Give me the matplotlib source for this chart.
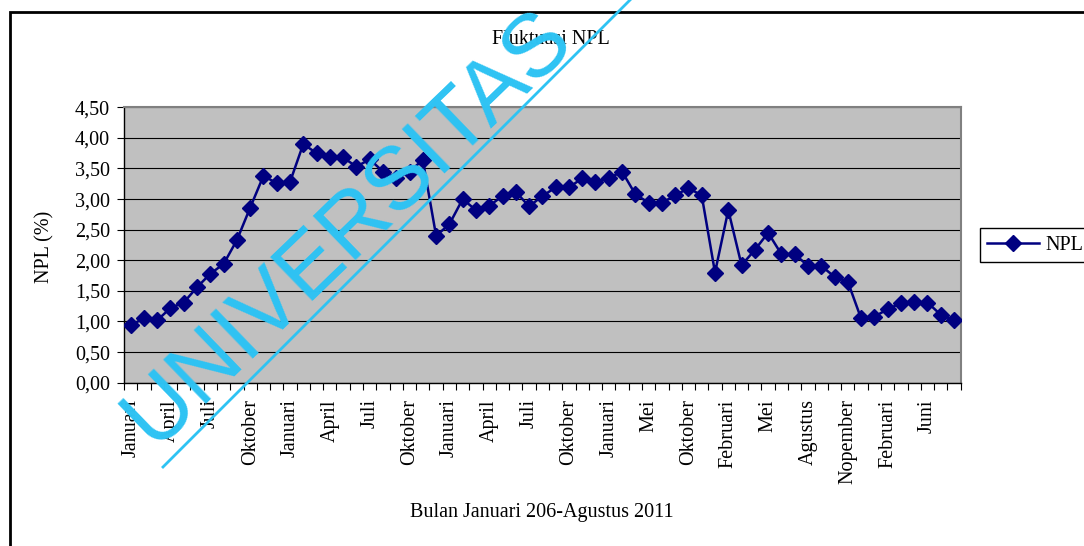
import matplotlib
matplotlib.use("Agg")
import matplotlib.pyplot as plt
from matplotlib.ticker import FixedLocator, FuncFormatter, MultipleLocator, NullFormatter
from matplotlib.lines import Line2D
from matplotlib.patches import Rectangle

# NPL bulanan (%) Januari 2006 - Agustus 2011
npl = [0.94, 1.05, 1.02, 1.22, 1.31, 1.56, 1.78, 1.94, 2.33, 2.86,
       3.38, 3.26, 3.28, 3.90, 3.75, 3.68, 3.68, 3.53, 3.65, 3.45,
       3.34, 3.45, 3.64, 2.40, 2.59, 3.00, 2.82, 2.89, 3.05, 3.12,
       2.88, 3.05, 3.19, 3.19, 3.34, 3.28, 3.34, 3.45, 3.08, 2.94,
       2.94, 3.06, 3.18, 3.06, 1.80, 2.82, 1.92, 2.17, 2.45, 2.10,
       2.10, 1.91, 1.91, 1.73, 1.65, 1.05, 1.08, 1.20, 1.30, 1.32,
       1.31, 1.11, 1.02]

# label bulan yang tampil (tiap 3 titik)
label_bulan = ["Januari", "April", "Juli", "Oktober", "Januari", "April", "Juli",
               "Oktober", "Januari", "April", "Juli", "Oktober", "Januari", "Mei",
               "Oktober", "Februari", "Mei", "Agustus", "Nopember", "Februari", "Juni"]

judul = "Fluktuasi NPL"
label_x = "Bulan Januari 206-Agustus 2011"
label_y = "NPL (%)"
watermark = "UNIVERSITAS"

W, H = 1084, 546
BIRU_TUA = "#000080"
CYAN = "#2ec3f3"
FS = 14.5


def px(x, y):
    # koordinat piksel (dari kiri atas) -> koordinat figure
    return x / W, 1 - y / H


def koma(v, pos):
    return f"{v:.2f}".replace(".", ",")


plt.rcParams['font.family'] = ['Liberation Serif', 'DejaVu Serif']

fig = plt.figure(figsize=(W / 100, H / 100), dpi=100)
ax = fig.add_axes([124 / W, 1 - 382.7 / H, 836.7 / W, 275.4 / H])
ax.set_facecolor("#c0c0c0")

n = len(npl)
x = list(range(n))
ax.plot(x, npl, color=BIRU_TUA, lw=1.8, marker="D", ms=8,
        mfc=BIRU_TUA, mec=BIRU_TUA, label="NPL", zorder=3)

ax.set_xlim(-0.5, n - 0.5)
ax.set_ylim(0, 4.5)
ax.yaxis.set_major_locator(MultipleLocator(0.5))
ax.yaxis.set_major_formatter(FuncFormatter(koma))
ax.grid(axis="y", color="black", lw=0.8)
ax.set_axisbelow(True)

# tick di antara kategori, label tiap 3 bulan
ax.xaxis.set_major_locator(FixedLocator([i - 0.5 for i in range(n + 1)]))
ax.xaxis.set_major_formatter(NullFormatter())
ax.xaxis.set_minor_locator(FixedLocator(list(range(0, n, 3))))
ax.set_xticklabels(label_bulan, minor=True, rotation=90)
ax.tick_params(axis="both", which="major", length=5, width=0.8,
               direction="out", color="black", labelsize=FS, pad=5)
ax.tick_params(axis="x", which="minor", length=0, pad=12, labelsize=FS)

for s in ["left", "bottom"]:
    ax.spines[s].set_color("black")
    ax.spines[s].set_linewidth(1)
for s in ["top", "right"]:
    ax.spines[s].set_color("#808080")
    ax.spines[s].set_linewidth(1.5)

leg = ax.legend(loc="center left", bbox_to_anchor=(980 / W, 1 - 245 / H),
                bbox_transform=fig.transFigure, fancybox=False, framealpha=1,
                edgecolor="black", fontsize=FS, handlelength=2.6,
                borderpad=0.35, borderaxespad=0, handletextpad=0.3)
leg.get_frame().set_linewidth(1)

fig.text(*px(551, 40), judul, ha="center", va="center", fontsize=FS)
fig.text(*px(542, 513), label_x, ha="center", va="center", fontsize=FS)
fig.text(*px(45, 247), label_y, ha="center", va="center", rotation=90, fontsize=FS)

# bingkai luar chart
fig.add_artist(Rectangle(px(10, 560), (1100 - 10) / W, (560 - 12) / H, fill=False,
                         ec="black", lw=2, transform=fig.transFigure))

# watermark
fig.text(*px(348, 228), watermark, rotation=44, rotation_mode="anchor",
         ha="center", va="center", fontsize=64, family="Liberation Sans",
         color=CYAN, zorder=10)
x0, y0 = px(163, 467)
x1, y1 = px(638, -8)
fig.add_artist(Line2D([x0, x1], [y0, y1], color=CYAN, lw=2, zorder=10,
                      transform=fig.transFigure))

fig.savefig("out.png", dpi=100)
